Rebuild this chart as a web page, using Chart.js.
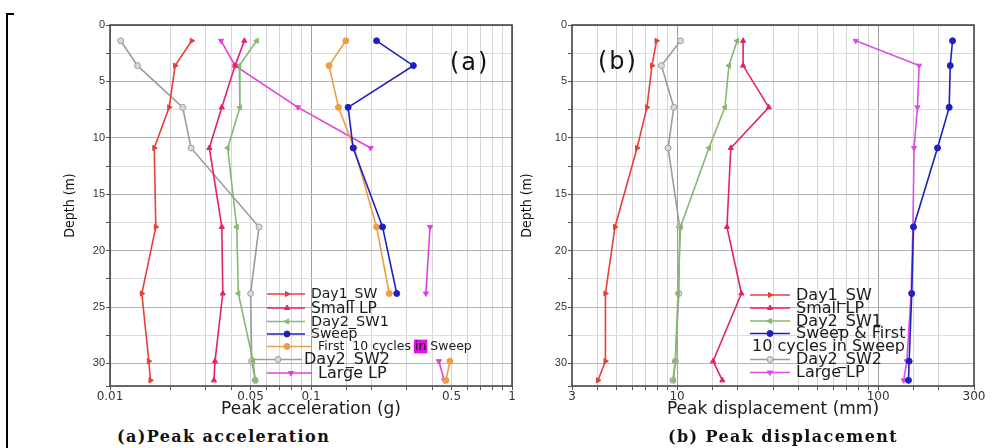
<!DOCTYPE html>
<html><head><meta charset="utf-8">
<script src="https://cdn.jsdelivr.net/npm/chart.js@4.4.1/dist/chart.umd.min.js"></script>
<style>
html,body{margin:0;padding:0;background:#fff;width:1008px;height:448px;overflow:hidden;}
body{position:relative;}
canvas{position:absolute;top:0;}
#ca{left:0;} #cb{left:510px;}
.cap{position:absolute;font-family:"DejaVu Serif",serif;font-weight:bold;font-size:16px;letter-spacing:1.4px;white-space:nowrap;top:427px;color:#111;}
.bracket{position:absolute;left:6px;top:13px;width:6px;height:440px;border-left:2px solid #000;border-top:2px solid #000;}
.tag{position:absolute;font-family:"DejaVu Sans",sans-serif;font-size:24px;letter-spacing:2px;color:#111;white-space:nowrap;}
</style></head><body>
<div class="bracket"></div>
<canvas id="ca" width="530" height="420"></canvas>
<canvas id="cb" width="498" height="420"></canvas>
<div class="tag" style="left:450px;top:48px">(a)</div>
<div class="tag" style="left:598px;top:47px">(b)</div>
<div class="cap" style="left:117px">(a)Peak acceleration</div>
<div class="cap" style="left:668px">(b) Peak displacement</div>
<script>
// ---- data ----
const depths = [1.4, 3.6, 7.3, 10.9, 17.9, 23.8, 29.8, 31.5];
const depthTickLabels = ['0', '5', '10', '15', '20', '25', '30'];

// (a) Peak acceleration (g)
const accDay1SW  = [0.0255, 0.0211, 0.0197, 0.0166, 0.0169, 0.0144, 0.0156, 0.0159];
const accSmallLP = [0.0466, 0.0419, 0.0360, 0.0312, 0.0360, 0.0364, 0.0333, 0.0329];
const accDay2SW1 = [0.0537, 0.0440, 0.0443, 0.0385, 0.0427, 0.0435, 0.0515, 0.0528];
const accSweep   = [0.212, 0.323, 0.153, 0.162, 0.227, 0.267];
const accFirst10 = [0.149, 0.123, 0.137, 0.164, 0.212, 0.245, 0.491, 0.469];
const accDay2SW2 = [0.0113, 0.0137, 0.0230, 0.0253, 0.0551, 0.0501, 0.0507, 0.0528];
const accLargeLP = [0.0357, 0.0419, 0.0861, 0.198, 0.391, 0.373, 0.433, 0.460];
const accTickLabels = ['0.01', '0.05', '0.1', '0.5', '1'];

// (b) Peak displacement (mm)
const dispDay1SW  = [7.9, 7.5, 7.08, 6.32, 4.91, 4.40, 4.40, 4.04];
const dispSmallLP = [21.3, 21.3, 28.6, 18.5, 17.7, 20.9, 15.1, 16.8];
const dispDay2SW1 = [19.9, 18.1, 17.3, 14.4, 10.4, 10.1, 9.8, 9.6];
const dispSweep   = [234.6, 228.5, 225.8, 197.5, 150, 147, 142.7, 141.6];
const dispDay2SW2 = [10.4, 8.36, 9.63, 9.02, 10.3, 10.2, 9.8, 9.52];
const dispLargeLP = [77.4, 160, 157, 151, 149, 146, 139, 134];
const dispTickLabels = ['3', '10', '100', '300'];

// line breaks (index of segment start that is not drawn)
const accFirst10Gaps = [5];
const accLargeLPGaps = [3, 5];

// ---- styles ----
const C = {
  day1: '#e5403a', small: '#e3226e', sw1: '#86b870', sweep: '#1f1fc4',
  first: '#ee9c45', sw2: '#9c9c9c', largeA: '#e23fe0', largeB: '#d84ee8'
};

function ds(label, xs, color, point, rot, fill, gaps) {
  return {
    label,
    data: xs.map((v, i) => ({x: v, y: depths[i]})),
    borderColor: color,
    backgroundColor: fill || color,
    pointBorderColor: color,
    pointStyle: point,
    pointRotation: rot,
    pointRadius: 3,
    pointBorderWidth: 1,
    borderWidth: 1.6,
    tension: 0,
    spanGaps: false,
    segment: gaps ? {borderColor: c => gaps.includes(c.p0DataIndex) ? 'rgba(0,0,0,0)' : undefined} : {}
  };
}

const isDecade = v => Math.abs(Math.log10(v) - Math.round(Math.log10(v))) < 1e-9;
const matchLabel = (v, labels) => {
  const l = labels.find(s => Math.abs(v / parseFloat(s) - 1) < 1e-6);
  return l === undefined ? '' : l;
};

const boxPlugin = {
  id: 'box',
  beforeDatasetsDraw(chart) {
    const {ctx, chartArea: a} = chart;
    ctx.save();
    ctx.strokeStyle = '#3c3c3c'; ctx.lineWidth = 1.5;
    ctx.strokeRect(a.left, a.top, a.right - a.left, a.bottom - a.top);
    ctx.restore();
  }
};

const legendPlugin = {
  id: 'customLegend',
  afterDraw(chart, args, opts) {
    const ctx = chart.ctx;
    (opts.items || []).forEach(it => {
      ctx.save();
      if (it.ds !== undefined) {
        const d = chart.data.datasets[it.ds];
        ctx.strokeStyle = d.borderColor; ctx.lineWidth = 1.4;
        ctx.beginPath(); ctx.moveTo(it.x0, it.y); ctx.lineTo(it.x1, it.y); ctx.stroke();
        ctx.fillStyle = d.backgroundColor; ctx.strokeStyle = d.pointBorderColor; ctx.lineWidth = 1;
        Chart.helpers.drawPoint(ctx, {pointStyle: d.pointStyle, rotation: d.pointRotation || 0, radius: 3, borderWidth: 1}, it.mx, it.y);
      }
      ctx.font = it.size + 'px "DejaVu Sans", sans-serif';
      ctx.textBaseline = 'middle';
      ctx.textAlign = 'left';
      let x = it.tx;
      (it.parts || [{t: it.text}]).forEach(p => {
        const w = ctx.measureText(p.t).width;
        if (p.bg) { ctx.fillStyle = p.bg; ctx.fillRect(x - 1, it.y - it.size * 0.55, w + 2, it.size * 1.1); }
        ctx.fillStyle = '#1a1a1a';
        ctx.fillText(p.t, x, it.y + 0.5);
        x += w;
      });
      ctx.restore();
    });
  }
};

function yScale(widthPx) {
  return {
    type: 'linear', reverse: true, min: 0, max: 32, position: 'left',
    afterFit: s => { s.width = widthPx; },
    ticks: {
      stepSize: 2.5, autoSkip: false, padding: 1, color: '#333',
      font: {family: 'Liberation Sans, Arial, sans-serif', size: 11},
      callback: v => depthTickLabels.includes(String(v)) ? String(v) : ''
    },
    grid: {
      color: c => (c.tick && c.tick.value % 5 === 0) ? '#b4b4b4' : '#dcdcdc',
      tickLength: 4, tickColor: '#555', lineWidth: 1
    },
    border: {display: false},
    title: {
      display: true, text: 'Depth (m)', color: '#111',
      font: {family: '"Liberation Sans Narrow", "DejaVu Sans Condensed", sans-serif', size: 14},
      padding: {top: 2, bottom: 0}
    }
  };
}

function xScale(min, max, labels, title) {
  return {
    type: 'logarithmic', min, max, position: 'bottom',
    afterFit: s => { s.height = 34; },
    ticks: {
      autoSkip: false, maxRotation: 0, minRotation: 0, padding: 0, color: '#333',
      font: {family: '"DejaVu Sans", sans-serif', size: 12},
      callback: v => matchLabel(v, labels)
    },
    grid: {
      color: c => (c.tick && isDecade(c.tick.value)) ? '#a0a0a0' : '#d6d6d6',
      tickLength: 4, tickColor: '#555', lineWidth: 1
    },
    border: {display: false},
    title: {
      display: true, text: title, color: '#1a1a1a',
      font: {family: '"DejaVu Sans", sans-serif', size: 17},
      padding: {top: 0, bottom: 0}
    }
  };
}

const common = {
  responsive: false, animation: false, devicePixelRatio: 1,
  plugins: {legend: {display: false}, tooltip: {enabled: false}}
};

new Chart(document.getElementById('ca'), {
  type: 'line',
  data: {datasets: [
    ds('Day1_SW', accDay1SW, C.day1, 'triangle', 90),
    ds('Small LP', accSmallLP, C.small, 'triangle', 0),
    ds('Day2_SW1', accDay2SW1, C.sw1, 'triangle', -90),
    ds('Sweep', accSweep, C.sweep, 'circle', 0),
    ds('First 10 cycles in Sweep', accFirst10, C.first, 'circle', 0, null, accFirst10Gaps),
    ds('Day2_SW2', accDay2SW2, C.sw2, 'circle', 0, '#dadada'),
    ds('Large LP', accLargeLP, C.largeA, 'triangle', 180, null, accLargeLPGaps)
  ]},
  options: Object.assign({}, common, {
    layout: {padding: {left: 60, top: 25, right: 18, bottom: 0}},
    scales: {x: xScale(0.01, 1, accTickLabels, 'Peak acceleration (g)'), y: yScale(50)},
    plugins: Object.assign({}, common.plugins, {
      customLegend: {items: [
        {ds: 0, x0: 267, x1: 305, mx: 287, tx: 311, y: 294, text: 'Day1_SW', size: 14},
        {ds: 1, x0: 267, x1: 305, mx: 287, tx: 311, y: 308, text: 'Small LP', size: 15.5},
        {ds: 2, x0: 267, x1: 305, mx: 287, tx: 311, y: 321.5, text: 'Day2_SW1', size: 14.5},
        {ds: 3, x0: 267, x1: 305, mx: 287, tx: 311, y: 334, text: 'Sweep', size: 14},
        {ds: 4, x0: 267, x1: 311, mx: 287, tx: 318, y: 346.5, size: 12.5,
          parts: [{t: 'First  10 cycles '}, {t: 'in', bg: '#e010e0'}, {t: ' Sweep'}]},
        {ds: 5, x0: 252, x1: 302, mx: 278, tx: 304, y: 359.5, text: 'Day2_SW2', size: 16},
        {ds: 6, x0: 267, x1: 312, mx: 291, tx: 318, y: 373, text: 'Large LP', size: 16}
      ]}
    })
  }),
  plugins: [boxPlugin, legendPlugin]
});

new Chart(document.getElementById('cb'), {
  type: 'line',
  data: {datasets: [
    ds('Day1_SW', dispDay1SW, C.day1, 'triangle', 90),
    ds('Small LP', dispSmallLP, C.small, 'triangle', 0),
    ds('Day2_SW1', dispDay2SW1, C.sw1, 'triangle', -90),
    ds('Sweep & First 10 cycles in Sweep', dispSweep, C.sweep, 'circle', 0),
    ds('Day2_SW2', dispDay2SW2, C.sw2, 'circle', 0, '#dadada'),
    ds('Large LP', dispLargeLP, C.largeB, 'triangle', 180)
  ]},
  options: Object.assign({}, common, {
    layout: {padding: {left: 7, top: 25, right: 34, bottom: 0}},
    scales: {x: xScale(3, 300, dispTickLabels, 'Peak displacement (mm)'), y: yScale(55)},
    plugins: Object.assign({}, common.plugins, {
      customLegend: {items: [
        {ds: 0, x0: 240, x1: 280, mx: 260, tx: 286, y: 295, text: 'Day1_SW', size: 16},
        {ds: 1, x0: 240, x1: 280, mx: 260, tx: 286, y: 308, text: 'Small LP', size: 16},
        {ds: 2, x0: 240, x1: 280, mx: 260, tx: 286, y: 321, text: 'Day2_SW1', size: 16},
        {ds: 3, x0: 240, x1: 280, mx: 260, tx: 286, y: 333.5, text: 'Sweep & First', size: 16},
        {tx: 242, y: 346, text: '10 cycles in Sweep', size: 16},
        {ds: 4, x0: 240, x1: 280, mx: 260, tx: 286, y: 359.5, text: 'Day2_SW2', size: 16},
        {ds: 5, x0: 240, x1: 280, mx: 260, tx: 286, y: 372.5, text: 'Large LP', size: 16}
      ]}
    })
  }),
  plugins: [boxPlugin, legendPlugin]
});
</script>
</body></html>
